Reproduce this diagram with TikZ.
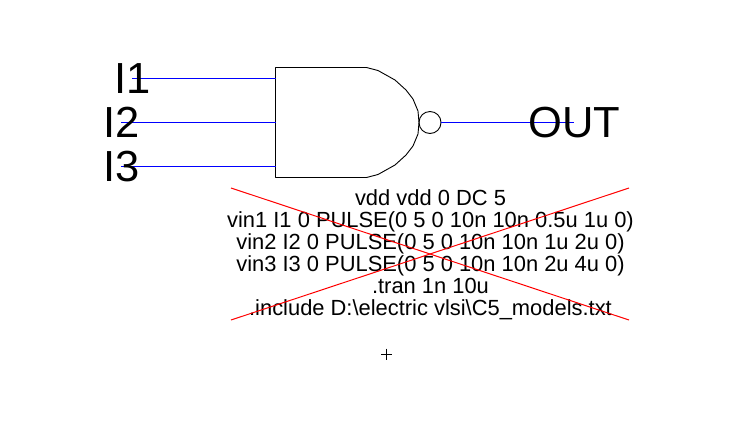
\documentclass[tikz,border=0pt]{standalone}
\usepackage{fontspec}
\setmainfont{Liberation Sans}
\begin{document}
\begin{tikzpicture}[x=1pt,y=-1pt,
  gate/.style={draw=black,line width=0.9pt,line join=round},
  wire/.style={draw=blue,line width=1pt},
  cross/.style={draw=red,line width=1pt},
  pin/.style={font=\fontsize{43.5}{43.5}\selectfont,anchor=base west,inner sep=0pt,text=black},
  net/.style={font=\fontsize{21.9}{21.9}\selectfont,anchor=base,inner sep=0pt,text=black}]
\useasboundingbox (0,0) rectangle (750,424);
% gate
\coordinate (tl) at (275.5,67.5);
\coordinate (bl) at (275.5,177.5);
\coordinate (i1) at (275.5,78.5);
\coordinate (i2) at (275.5,122.5);
\coordinate (i3) at (275.5,166.5);
\coordinate (w1) at (132,78.5);
\coordinate (w2) at (121,122.5);
\coordinate (w3) at (121,166.5);
\coordinate (w4) at (574,122.5);
\draw[gate] (tl) -- (366.5,67.5) -- (378,70.5) -- (395,80) -- (406,90) -- (413,99) -- (418,111) -- (419,122.5)
  -- (418,134) -- (413,146) -- (406,155) -- (395,165) -- (378,174.5) -- (366.5,177.5) -- (bl) -- cycle;
\node[gate,circle,minimum size=22pt,inner sep=0pt] (bub) at (430,122.5) {};
% wires
\draw[wire] (w1) -- (i1);
\draw[wire] (w2) -- (i2);
\draw[wire] (w3) -- (i3);
\draw[wire] (bub.east) -- (w4);
% pin labels
\node[pin] (l1) at (114.5,93.5) {I1};
\node[pin] (l2) at (103,137.5) {I2};
\node[pin] (l3) at (103,181.5) {I3};
\node[pin] (lo) at (528,137.5) {OUT};
% spice text
\node[net] (t1) at (430.5,205.5) {vdd vdd 0 DC 5};
\node[net] (t2) at (430.5,227) {vin1 I1 0 PULSE(0 5 0 10n 10n 0.5u 1u 0)};
\node[net] (t3) at (430.5,249.5) {vin2 I2 0 PULSE(0 5 0 10n 10n 1u 2u 0)};
\node[net] (t4) at (430.5,271.5) {vin3 I3 0 PULSE(0 5 0 10n 10n 2u 4u 0)};
\node[net] (t5) at (430.5,293.5) {.tran 1n 10u};
\node[net] (t6) at (430.5,315.5) {.include D:\textbackslash electric vlsi\textbackslash C5\_models.txt};
% cross-out
\coordinate (c1) at (231,188);
\coordinate (c2) at (629,320);
\coordinate (c3) at (231,320);
\coordinate (c4) at (629,188);
\draw[cross] (c1) -- (c2);
\draw[cross] (c3) -- (c4);
% origin mark
\coordinate (p1) at (381,354);
\coordinate (p2) at (392,354);
\coordinate (p3) at (386.5,348.5);
\coordinate (p4) at (386.5,359.5);
\draw[line width=0.8pt] (p1) -- (p2);
\draw[line width=0.8pt] (p3) -- (p4);
\end{tikzpicture}
\end{document}
